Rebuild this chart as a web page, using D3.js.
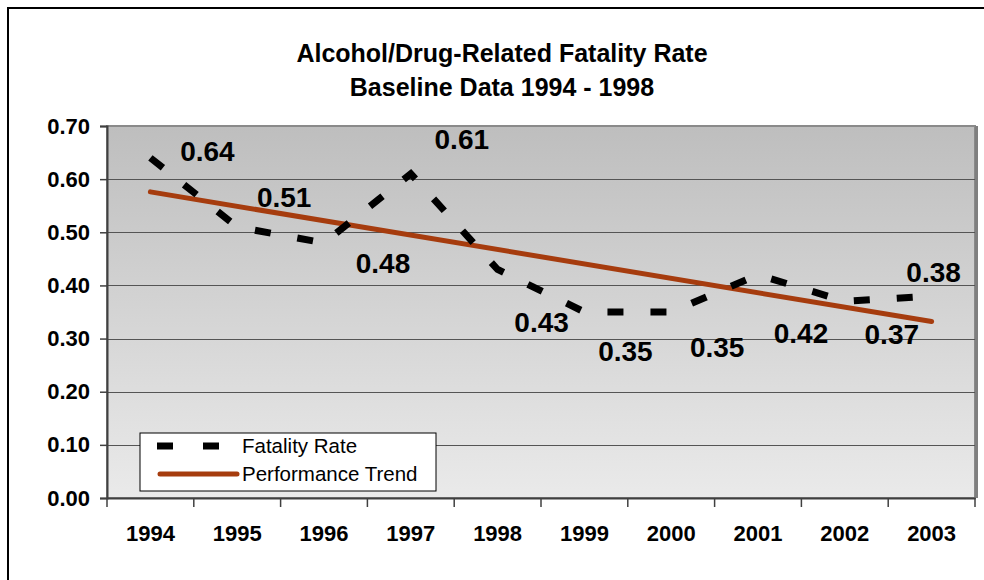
<!DOCTYPE html>
<html>
<head>
<meta charset="utf-8">
<title>Alcohol/Drug-Related Fatality Rate</title>
<script src="https://cdn.jsdelivr.net/npm/d3@7"></script>
<style>
html, body { margin: 0; padding: 0; background: #fff; }
svg text { font-family: "Liberation Sans", Arial, sans-serif; }
.tick-label { font-size: 22px; font-weight: bold; fill: #000; }
.data-label { font-size: 28px; font-weight: bold; fill: #000; }
.title { font-size: 25px; font-weight: bold; fill: #000; }
.legend-text { font-size: 20.5px; fill: #000; }
</style>
</head>
<body>
<svg id="chart" width="984" height="580"></svg>
<script>
// chart values
var years = ["1994", "1995", "1996", "1997", "1998", "1999", "2000", "2001", "2002", "2003"];
var fatalityRate = [0.64, 0.51, 0.48, 0.61, 0.43, 0.35, 0.35, 0.42, 0.37, 0.38];
var trendEnds = [0.576, 0.332];   // performance trend at 1994 and 2003
var yTicks = [0, 0.1, 0.2, 0.3, 0.4, 0.5, 0.6, 0.7];
var titleLines = ["Alcohol/Drug-Related Fatality Rate", "Baseline Data 1994 - 1998"];
var seriesNames = ["Fatality Rate", "Performance Trend"];

// where Excel's hand-dragged data labels sit, relative to their point (px)
var labelShift = [[57, -7], [47, -30], [59, 20], [51, -35], [44, 52],
                  [41, 39], [46, 35], [43, 58], [47, 33], [2, -24]];

var svg = d3.select("#chart");
var plot = {left: 107, right: 975, top: 126, bottom: 498};

var x = d3.scaleBand().domain(years).range([plot.left, plot.right]).padding(0);
var y = d3.scaleLinear().domain([0, 0.7]).range([plot.bottom, plot.top]);
function cx(d) { return x(d) + x.bandwidth() / 2; }

// outer chart frame (runs off the right/bottom edge)
svg.append("rect")
    .attr("x", 8).attr("y", 8)
    .attr("width", 1000).attr("height", 620)
    .attr("fill", "#fff").attr("stroke", "#000").attr("stroke-width", 2);

// plot area gradient
var defs = svg.append("defs");
var grad = defs.append("linearGradient").attr("id", "plotbg")
    .attr("x1", 0).attr("y1", 0).attr("x2", 0).attr("y2", 1);
grad.append("stop").attr("offset", "0%").attr("stop-color", "#bebebe");
grad.append("stop").attr("offset", "100%").attr("stop-color", "#eaeaea");

svg.append("rect")
    .attr("x", plot.left).attr("y", plot.top)
    .attr("width", plot.right - plot.left).attr("height", plot.bottom - plot.top)
    .attr("fill", "url(#plotbg)")
    .attr("stroke", "#8a8a8a").attr("stroke-width", 2);
svg.append("line")
    .attr("x1", plot.right + 1.5).attr("x2", plot.right + 1.5)
    .attr("y1", plot.top).attr("y2", plot.bottom)
    .attr("stroke", "#7f7f7f").attr("stroke-width", 3);

// gridlines
svg.append("g").selectAll("line")
    .data(yTicks.filter(function(d) { return d > 0 && d < 0.7; }))
    .enter().append("line")
    .attr("x1", plot.left).attr("x2", plot.right)
    .attr("y1", function(d) { return Math.round(y(d)) + 0.5; })
    .attr("y2", function(d) { return Math.round(y(d)) + 0.5; })
    .attr("stroke", "#555").attr("stroke-width", 1);

// y axis
var yAxis = svg.append("g")
    .attr("transform", "translate(" + plot.left + ",0)")
    .call(d3.axisLeft(y).tickValues(yTicks).tickSize(7).tickPadding(10).tickFormat(d3.format(".2f")));
yAxis.select(".domain").attr("stroke", "#404040").attr("stroke-width", 2);
yAxis.selectAll(".tick line").attr("stroke", "#404040").attr("stroke-width", 1.5);
yAxis.selectAll(".tick text").attr("class", "tick-label").attr("font-family", null).attr("font-size", null);

// x axis, ticks between categories
var xAxis = svg.append("g")
    .attr("transform", "translate(0," + plot.bottom + ")")
    .call(d3.axisBottom(x).tickSize(0).tickPadding(0));
xAxis.select(".domain").attr("stroke", "#404040").attr("stroke-width", 2);
xAxis.selectAll(".tick text").attr("class", "tick-label")
    .attr("font-family", null).attr("font-size", null)
    .attr("y", 43).attr("dy", null);
xAxis.selectAll(".sep")
    .data(years.concat(["end"]))
    .enter().append("line")
    .attr("class", "sep")
    .attr("x1", function(d, i) { return i < years.length ? x(d) : plot.right; })
    .attr("x2", function(d, i) { return i < years.length ? x(d) : plot.right; })
    .attr("y1", 0).attr("y2", 9)
    .attr("stroke", "#404040").attr("stroke-width", 1.5);

// trend line
svg.append("line")
    .attr("x1", cx(years[0])).attr("y1", y(trendEnds[0]))
    .attr("x2", cx(years[years.length - 1])).attr("y2", y(trendEnds[1]))
    .attr("stroke", "#a63c0e").attr("stroke-width", 5).attr("stroke-linecap", "round");

// fatality rate, heavy dashes
var line = d3.line()
    .x(function(d, i) { return cx(years[i]); })
    .y(function(d) { return y(d); });

svg.append("path")
    .datum(fatalityRate)
    .attr("d", line)
    .attr("fill", "none")
    .attr("stroke", "#000").attr("stroke-width", 7)
    .attr("stroke-dasharray", "16,27");

// data labels
svg.append("g").selectAll("text")
    .data(fatalityRate)
    .enter().append("text")
    .attr("class", "data-label")
    .attr("text-anchor", "middle")
    .attr("x", function(d, i) { return cx(years[i]) + labelShift[i][0]; })
    .attr("y", function(d, i) { return y(d) + labelShift[i][1]; })
    .attr("dy", "0.36em")
    .text(function(d) { return d3.format(".2f")(d); });

// title
svg.append("g").selectAll("text")
    .data(titleLines)
    .enter().append("text")
    .attr("class", "title")
    .attr("text-anchor", "middle")
    .attr("x", 502)
    .attr("y", function(d, i) { return 62 + i * 34; })
    .text(function(d) { return d; });

// legend
var legend = svg.append("g").attr("transform", "translate(140,433)");
legend.append("rect")
    .attr("width", 296).attr("height", 58)
    .attr("fill", "#fff").attr("stroke", "#000").attr("stroke-width", 1);
legend.append("line")
    .attr("x1", 17).attr("x2", 97).attr("y1", 13).attr("y2", 13)
    .attr("stroke", "#000").attr("stroke-width", 7)
    .attr("stroke-dasharray", "16,30");
legend.append("line")
    .attr("x1", 20).attr("x2", 97).attr("y1", 41).attr("y2", 41)
    .attr("stroke", "#a63c0e").attr("stroke-width", 5).attr("stroke-linecap", "round");
legend.selectAll(".legend-text")
    .data(seriesNames)
    .enter().append("text")
    .attr("class", "legend-text")
    .attr("x", 102)
    .attr("y", function(d, i) { return 13 + i * 28; })
    .attr("dy", "0.36em")
    .text(function(d) { return d; });
</script>
</body>
</html>
